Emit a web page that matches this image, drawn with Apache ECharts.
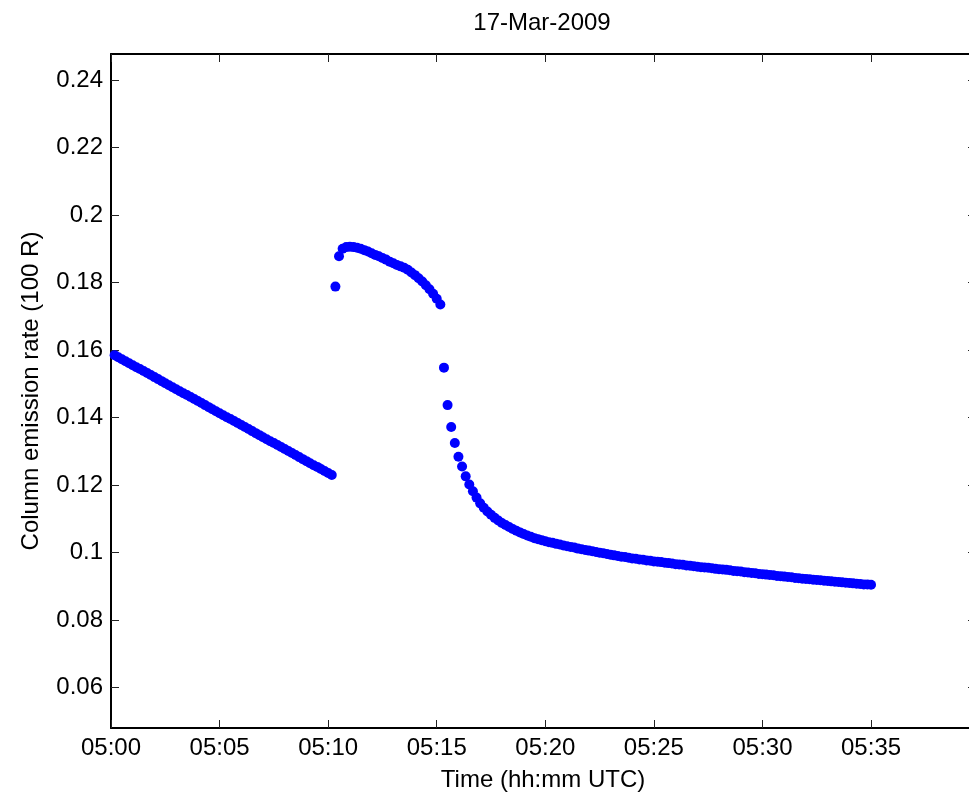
<!DOCTYPE html>
<html><head><meta charset="utf-8">
<script src="https://cdn.jsdelivr.net/npm/echarts@6/dist/echarts.min.js"></script>
<style>html,body{margin:0;padding:0;background:#fff;overflow:hidden}#c{width:969px;height:795px}</style>
</head><body><div id="c"></div>
<script>
const chartTitle = '17-Mar-2009';
const xTitle = 'Time (hh:mm UTC)';
const yTitle = 'Column emission rate (100 R)';
const sampleStepSec = 10;            // sampling cadence of the measurements
const segmentStartSec = [10, 620, 920]; // seconds after 05:00:00 UTC
const seg1Values = [
0.1585,0.1579,0.1573,0.1567,0.1561,0.1555,0.1549,0.1544,0.1538,0.1532,
0.1526,0.1520,0.1514,0.1508,0.1502,0.1496,0.1490,0.1484,0.1478,0.1472,
0.1467,0.1461,0.1455,0.1449,0.1443,0.1437,0.1431,0.1425,0.1419,0.1413,
0.1407,0.1401,0.1396,0.1390,0.1384,0.1378,0.1372,0.1366,0.1360,0.1354,
0.1348,0.1342,0.1336,0.1330,0.1325,0.1319,0.1313,0.1307,0.1301,0.1295,
0.1289,0.1283,0.1277,0.1271,0.1265,0.1259,0.1254,0.1248,0.1242,0.1236,
0.1230];
const seg2Values = [
0.1788,0.1878,0.1900,0.1905,0.1906,0.1905,0.1903,0.1900,0.1896,0.1892,
0.1887,0.1882,0.1878,0.1873,0.1868,0.1862,0.1857,0.1852,0.1848,0.1844,
0.1838,0.1830,0.1822,0.1813,0.1803,0.1792,0.1780,0.1767,0.1752,0.1735];
const seg3Values = [
0.1548,0.1437,0.1372,0.1325,0.1284,0.1255,0.1226,0.1202,0.1182,
0.1163,0.1146,0.1133,0.1122,0.1112,0.1103,0.1095,0.1088,0.1082,0.1076,
0.1070,0.1065,0.1060,0.1055,0.1051,0.1047,0.1043,0.1040,0.1037,0.1034,
0.1031,0.1029,0.1026,0.1024,0.1021,0.1019,0.1017,0.1015,0.1012,0.1010,
0.1008,0.1006,0.1004,0.1002,0.1000,0.0998,0.0996,0.0994,0.0992,0.0990,
0.0988,0.0987,0.0985,0.0983,0.0982,0.0980,0.0979,0.0977,0.0976,0.0974,
0.0973,0.0972,0.0970,0.0969,0.0968,0.0966,0.0965,0.0964,0.0962,0.0961,
0.0960,0.0958,0.0957,0.0956,0.0955,0.0954,0.0952,0.0951,0.0950,0.0949,
0.0948,0.0946,0.0945,0.0944,0.0942,0.0941,0.0940,0.0939,0.0937,0.0936,
0.0935,0.0934,0.0933,0.0931,0.0930,0.0929,0.0928,0.0927,0.0925,0.0924,
0.0923,0.0922,0.0921,0.0920,0.0919,0.0918,0.0917,0.0916,0.0915,0.0914,
0.0913,0.0912,0.0911,0.0910,0.0909,0.0908,0.0907,0.0906,0.0906,0.0905];
const xTickSeconds = [0,300,600,900,1200,1500,1800,2100];
const yTickValues = [0.06,0.08,0.10,0.12,0.14,0.16,0.18,0.20,0.22,0.24];
const xRange = [0, 2390];
const yRange = [0.04806, 0.2477];

const segments = [seg1Values, seg2Values, seg3Values];
const points = [];
segments.forEach((vals, s) => vals.forEach((v, i) => points.push([segmentStartSec[s] + i * sampleStepSec, v])));

const FONT = '"Liberation Sans", Arial, Helvetica, sans-serif';
const fmtX = v => { const m = Math.round(v / 60); return '05:' + (m < 10 ? '0' : '') + m; };
const fmtY = v => String(+v.toFixed(2));
const lineStyle = {color: '#000', width: 2};
const tickStyle = {color: '#222', width: 1};

const chart = echarts.init(document.getElementById('c'), null, {renderer: 'canvas'});
chart.setOption({
  backgroundColor: '#fff',
  animation: false,
  grid: {left: 111, top: 54, right: -7, bottom: 67, outerBoundsMode: 'none'},
  xAxis: [
    {type: 'value', position: 'bottom', min: xRange[0], max: xRange[1],
     axisLine: {show: true, onZero: false, lineStyle: lineStyle},
     axisTick: {show: true, inside: true, length: 8, lineStyle: tickStyle, customValues: xTickSeconds},
     axisLabel: {show: true, margin: 8, fontSize: 24, fontFamily: FONT, color: '#000', formatter: fmtX, customValues: xTickSeconds},
     splitLine: {show: false}},
    {type: 'value', position: 'top', min: xRange[0], max: xRange[1],
     axisLine: {show: true, onZero: false, lineStyle: lineStyle},
     axisTick: {show: true, inside: true, length: 8, lineStyle: tickStyle, customValues: xTickSeconds},
     axisLabel: {show: false}, splitLine: {show: false}}
  ],
  yAxis: [
    {type: 'value', position: 'left', min: yRange[0], max: yRange[1],
     axisLine: {show: true, onZero: false, lineStyle: lineStyle},
     axisTick: {show: true, inside: true, length: 8, lineStyle: tickStyle, customValues: yTickValues},
     axisLabel: {show: true, margin: 8, fontSize: 24, fontFamily: FONT, color: '#000', formatter: fmtY, customValues: yTickValues},
     splitLine: {show: false}},
    {type: 'value', position: 'right', min: yRange[0], max: yRange[1],
     axisLine: {show: false, onZero: false},
     axisTick: {show: true, inside: true, length: 8, lineStyle: tickStyle, customValues: yTickValues},
     axisLabel: {show: false}, splitLine: {show: false}}
  ],
  graphic: [
    {type: 'text', x: 542, y: 23, style: {text: chartTitle, font: '24px ' + FONT, fill: '#000', textAlign: 'center', textVerticalAlign: 'middle'}},
    {type: 'text', x: 543, y: 780, style: {text: xTitle, font: '24px ' + FONT, fill: '#000', textAlign: 'center', textVerticalAlign: 'middle'}},
    {type: 'text', x: 31, y: 391, rotation: Math.PI / 2, style: {text: yTitle, font: '24px ' + FONT, fill: '#000', textAlign: 'center', textVerticalAlign: 'middle'}}
  ],
  series: [{
    type: 'scatter', xAxisIndex: 0, yAxisIndex: 0,
    symbol: 'circle', symbolSize: 10,
    itemStyle: {color: '#0000ff', opacity: 1},
    data: points
  }]
});
</script></body></html>
